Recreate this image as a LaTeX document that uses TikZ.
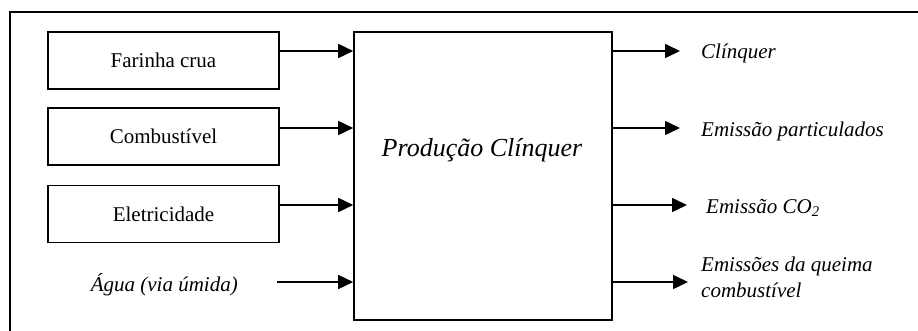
\documentclass[tikz,border=0pt]{standalone}
\usepackage{fontspec}
\setmainfont{Liberation Serif}
\usetikzlibrary{arrows.meta}
\begin{document}
\begin{tikzpicture}[x=1pt,y=-1pt,
  inbox/.style={draw,line width=1.6pt,minimum width=231pt,minimum height=57pt,inner sep=0pt,font=\fontsize{21}{24}\selectfont},
  lbl/.style={inner sep=0pt,font=\fontsize{21}{26}\selectfont\itshape},
  arr/.style={line width=1.6pt,-{Triangle[length=15pt,width=14pt]}}]
\useasboundingbox (0,0) rectangle (918,331);
\draw[line width=1.4pt] (918,12) -- (10,12) -- (10,340);
% inputs
\node[inbox] (b1) at (163.5,60.5) {Farinha crua};
\node[inbox] (b2) at (163.5,136.5) {Combustível};
\node[inbox] (b3) at (163.5,214) {Eletricidade};
\node[lbl,anchor=east] (w) at (238,285) {Água (via úmida)};
% main
\node[draw,line width=1.6pt,minimum width=258pt,minimum height=288pt,inner sep=0pt] (main) at (483,176) {};
\node[lbl,font=\fontsize{26}{30}\selectfont\itshape] (pt) at (482,150) {Produção Clínquer};
% input arrows
\draw[arr] (b1.east |- 0,51) -- (main.west |- 0,51);
\draw[arr] (b2.east |- 0,128) -- (main.west |- 0,128);
\draw[arr] (b3.east |- 0,205) -- (main.west |- 0,205);
\draw[arr] (277,282) -- (main.west |- 0,282);
% outputs
\coordinate (e1) at (680,51);
\coordinate (e2) at (680,128);
\coordinate (e3) at (687,205);
\coordinate (e4) at (688,282);
\draw[arr] (main.east |- e1) -- (e1);
\draw[arr] (main.east |- e2) -- (e2);
\draw[arr] (main.east |- e3) -- (e3);
\draw[arr] (main.east |- e4) -- (e4);
\node[lbl,anchor=west] (o1) at (701,53) {Clínquer};
\node[lbl,anchor=west] (o2) at (701,131) {Emissão particulados};
\node[lbl,anchor=west] (o3) at (706,208) {Emissão CO\textsubscript{2}};
\node[lbl,anchor=west,align=left] (o4) at (701,277) {Emissões da queima\\combustível};
\end{tikzpicture}
\end{document}
